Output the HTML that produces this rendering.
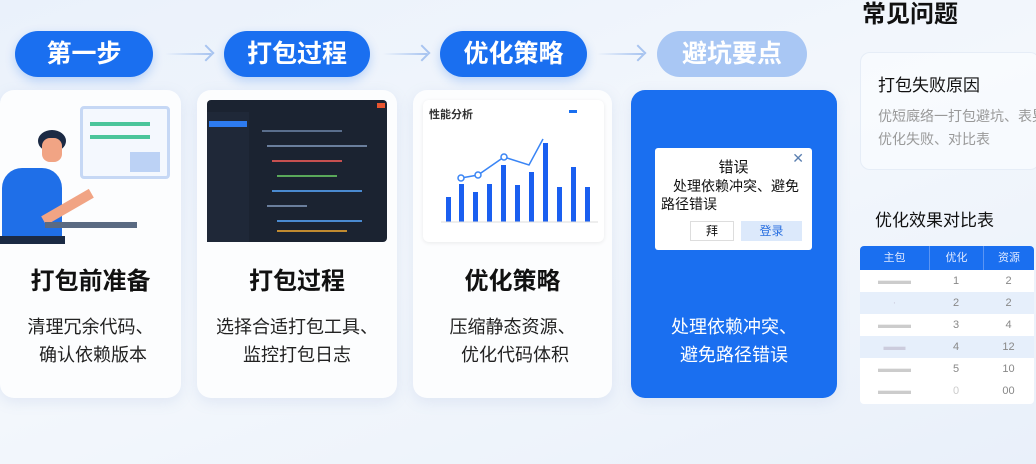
<!DOCTYPE html>
<html><head><meta charset="utf-8"><style>
*{margin:0;padding:0;box-sizing:border-box}
body{width:1036px;height:464px;overflow:hidden;background:linear-gradient(160deg,#eaf1fb 0%,#f3f7fc 50%,#e9f0fa 100%);font-family:"Liberation Sans","Noto Sans CJK SC",sans-serif;position:relative}
.a{position:absolute}
.pill{position:absolute;top:31px;height:46px;border-radius:23px;background:#1a6ff0;color:#fff;font-size:25px;font-weight:bold;text-align:center;line-height:46px;box-shadow:0 4px 10px rgba(26,111,240,.25)}
.arr{position:absolute;top:53px;height:2px;background:linear-gradient(90deg,rgba(160,190,240,0),#a8c4f0)}
.arr:after{content:"";position:absolute;right:-1px;top:-6px;width:10px;height:10px;border-top:2px solid #a8c4f0;border-right:2px solid #a8c4f0;transform:rotate(45deg)}
.card{position:absolute;top:90px;height:308px;border-radius:14px;background:#fcfdfe;box-shadow:0 4px 14px rgba(120,150,200,.15);text-align:center}
.t{position:absolute;left:0;right:0;top:171px;font-size:24px;font-weight:bold;color:#111}
.d{position:absolute;left:0;right:0;top:223px;font-size:18px;line-height:28px;color:#222}
</style></head><body>
<div class="pill" style="left:15px;width:138px">第一步</div>
<div class="arr" style="left:165px;width:46px"></div>
<div class="pill" style="left:224px;width:146px">打包过程</div>
<div class="arr" style="left:383px;width:44px"></div>
<div class="pill" style="left:440px;width:147px">优化策略</div>
<div class="arr" style="left:597px;width:46px"></div>
<div class="pill" style="left:657px;width:150px;background:#a9c7f4;box-shadow:none">避坑要点</div>

<div class="card" style="left:0;width:181px">
 <div class="a" style="left:80px;top:16px;width:90px;height:73px;border:3px solid #c6d8f5;border-radius:4px;background:#f4f8fe"></div>
 <div class="a" style="left:90px;top:32px;width:60px;height:4px;background:#4bc59b"></div>
 <div class="a" style="left:90px;top:45px;width:60px;height:4px;background:#4bc59b"></div>
 <div class="a" style="left:130px;top:62px;width:30px;height:20px;background:#bcd2f5"></div>
 <div class="a" style="left:38px;top:40px;width:28px;height:22px;border-radius:50%;background:#1b2a44"></div>
 <div class="a" style="left:42px;top:48px;width:20px;height:24px;border-radius:8px;background:#f1a484"></div>
 <div class="a" style="left:2px;top:78px;width:60px;height:72px;border-radius:20px 20px 0 0;background:#1f6fe8"></div>
 <div class="a" style="left:40px;top:112px;width:55px;height:10px;background:#f1a484;transform:rotate(-30deg)"></div>
 <div class="a" style="left:45px;top:132px;width:92px;height:6px;background:#5a6a82"></div>
 <div class="a" style="left:0;top:146px;width:65px;height:8px;background:#1b2a44"></div>
 <div class="t">打包前准备</div>
 <div class="d">清理冗余代码、<br>&nbsp;确认依赖版本</div>
</div>
<div class="card" style="left:197px;width:200px">
 <div class="a" style="left:10px;top:10px;width:180px;height:142px;border-radius:4px;background:#1b2331;text-align:left">
  <div class="a" style="left:0;top:12px;width:42px;height:130px;background:#1f2838"></div>
  <div class="a" style="left:2px;top:21px;width:38px;height:6px;background:#2d7bf0"></div>
  <div class="a" style="left:170px;top:3px;width:8px;height:5px;background:#e8552f"></div>
  <div class="a" style="left:55px;top:30px;width:80px;height:2px;background:#5a6e8c"></div>
  <div class="a" style="left:60px;top:45px;width:100px;height:2px;background:#6a7e9c"></div>
  <div class="a" style="left:65px;top:60px;width:70px;height:2px;background:#c65050"></div>
  <div class="a" style="left:70px;top:75px;width:60px;height:2px;background:#5aa85a"></div>
  <div class="a" style="left:65px;top:90px;width:90px;height:2px;background:#4a8ad0"></div>
  <div class="a" style="left:60px;top:105px;width:40px;height:2px;background:#6a7e9c"></div>
  <div class="a" style="left:70px;top:120px;width:85px;height:2px;background:#4a8ad0"></div>
  <div class="a" style="left:70px;top:130px;width:70px;height:2px;background:#c08a30"></div>
 </div>
 <div class="t">打包过程</div>
 <div class="d">选择合适打包工具、<br>监控打包日志</div>
</div>
<div class="card" style="left:413px;width:199px">
 <div class="a" style="left:10px;top:10px;width:181px;height:142px;border-radius:6px;background:#fff;box-shadow:0 1px 4px rgba(0,0,0,.08);text-align:left">
  <div class="a" style="left:6px;top:6px;font-size:11px;color:#333;font-weight:bold">性能分析</div>
  <div class="a" style="left:146px;top:10px;width:8px;height:3px;background:#1a6ff0"></div>
  <svg class="a" style="left:0;top:0" width="181" height="142">
   <g fill="#1a5ff0">
    <rect x="23" y="97" width="5" height="25"/><rect x="36" y="84" width="5" height="38"/><rect x="50" y="92" width="5" height="30"/><rect x="64" y="84" width="5" height="38"/><rect x="78" y="65" width="5" height="57"/><rect x="92" y="85" width="5" height="37"/><rect x="106" y="72" width="5" height="50"/><rect x="120" y="43" width="5" height="79"/><rect x="134" y="87" width="5" height="35"/><rect x="148" y="67" width="5" height="55"/><rect x="162" y="87" width="5" height="35"/></g>
   <polyline points="38,78 55,75 81,57 106,65 120,39" fill="none" stroke="#3a85f5" stroke-width="1.5"/>
   <g fill="#fff" stroke="#3a85f5" stroke-width="1.5"><circle cx="38" cy="78" r="3"/><circle cx="55" cy="75" r="3"/><circle cx="81" cy="57" r="3"/></g>
   <line x1="18" y1="122" x2="175" y2="122" stroke="#ddd"/>
  </svg>
 </div>
 <div class="t">优化策略</div>
 <div class="d">压缩静态资源、<br>&nbsp;优化代码体积</div>
</div>
<div class="card" style="left:631px;width:206px;background:#1a6ff0">
 <div class="a" style="left:24px;top:58px;width:157px;height:102px;background:#fff;border-radius:3px;color:#111;text-align:left">
  <div class="a" style="left:0;right:0;top:8px;text-align:center;font-size:15px">错误</div>
  <div class="a" style="right:8px;top:2px;font-size:14px;color:#5a7fb0">✕</div>
  <div class="a" style="left:6px;top:29px;font-size:14px;line-height:18px;text-indent:12px;width:150px">处理依赖冲突、避免路径错误</div>
  <div class="a" style="left:35px;top:73px;width:44px;height:20px;border:1px solid #ddd;text-align:center;font-size:12px;line-height:18px">拜</div>
  <div class="a" style="left:86px;top:73px;width:61px;height:20px;background:#dce9fb;color:#2a70e0;text-align:center;font-size:12px;line-height:20px">登录</div>
 </div>
 <div class="d" style="color:#fff">处理依赖冲突、<br>避免路径错误</div>
</div>

<div class="a" style="left:862px;top:0;font-size:24px;font-weight:bold;color:#111;line-height:30px">常见问题</div>
<div class="a" style="left:860px;top:52px;width:180px;height:118px;border-radius:10px;background:rgba(250,252,255,.7);border:1px solid #e6edf7">
 <div class="a" style="left:17px;top:18px;font-size:17px;color:#111">打包失败原因</div>
 <div class="a" style="left:17px;top:52px;font-size:14px;line-height:23px;color:#999;white-space:nowrap">优短廐络一打包避坑、表晃<br>优化失败、对比表</div>
</div>
<div class="a" style="left:875px;top:206px;font-size:17px;color:#111">优化效果对比表</div>
<div class="a" style="left:860px;top:246px;width:174px;height:158px;border-radius:4px;background:#fff;overflow:hidden;font-size:11px;color:#888;text-align:center">
 <div style="display:flex;height:24px;background:#1a6ff0;color:#dfe9ff;line-height:24px"><div style="width:69px">主包</div><div style="width:54px;border-left:1px solid #5b95f3">优化</div><div style="flex:1;border-left:1px solid #5b95f3">资源</div></div>
 <div style="display:flex;height:22px;line-height:22px"><div style="width:69px;color:#ccc">▬▬▬</div><div style="width:54px">1</div><div style="flex:1">2</div></div>
 <div style="display:flex;height:22px;line-height:22px;background:#e6effb"><div style="width:69px;color:#ccd">·</div><div style="width:54px">2</div><div style="flex:1">2</div></div>
 <div style="display:flex;height:22px;line-height:22px"><div style="width:69px;color:#ccc">▬▬▬</div><div style="width:54px">3</div><div style="flex:1">4</div></div>
 <div style="display:flex;height:22px;line-height:22px;background:#e6effb"><div style="width:69px;color:#ccd">▬▬</div><div style="width:54px">4</div><div style="flex:1">12</div></div>
 <div style="display:flex;height:22px;line-height:22px"><div style="width:69px;color:#ccc">▬▬▬</div><div style="width:54px">5</div><div style="flex:1">10</div></div>
 <div style="display:flex;height:22px;line-height:22px"><div style="width:69px;color:#ccc">▬▬▬</div><div style="width:54px;color:#ccc">0</div><div style="flex:1">00</div></div>
</div>
</body></html>
